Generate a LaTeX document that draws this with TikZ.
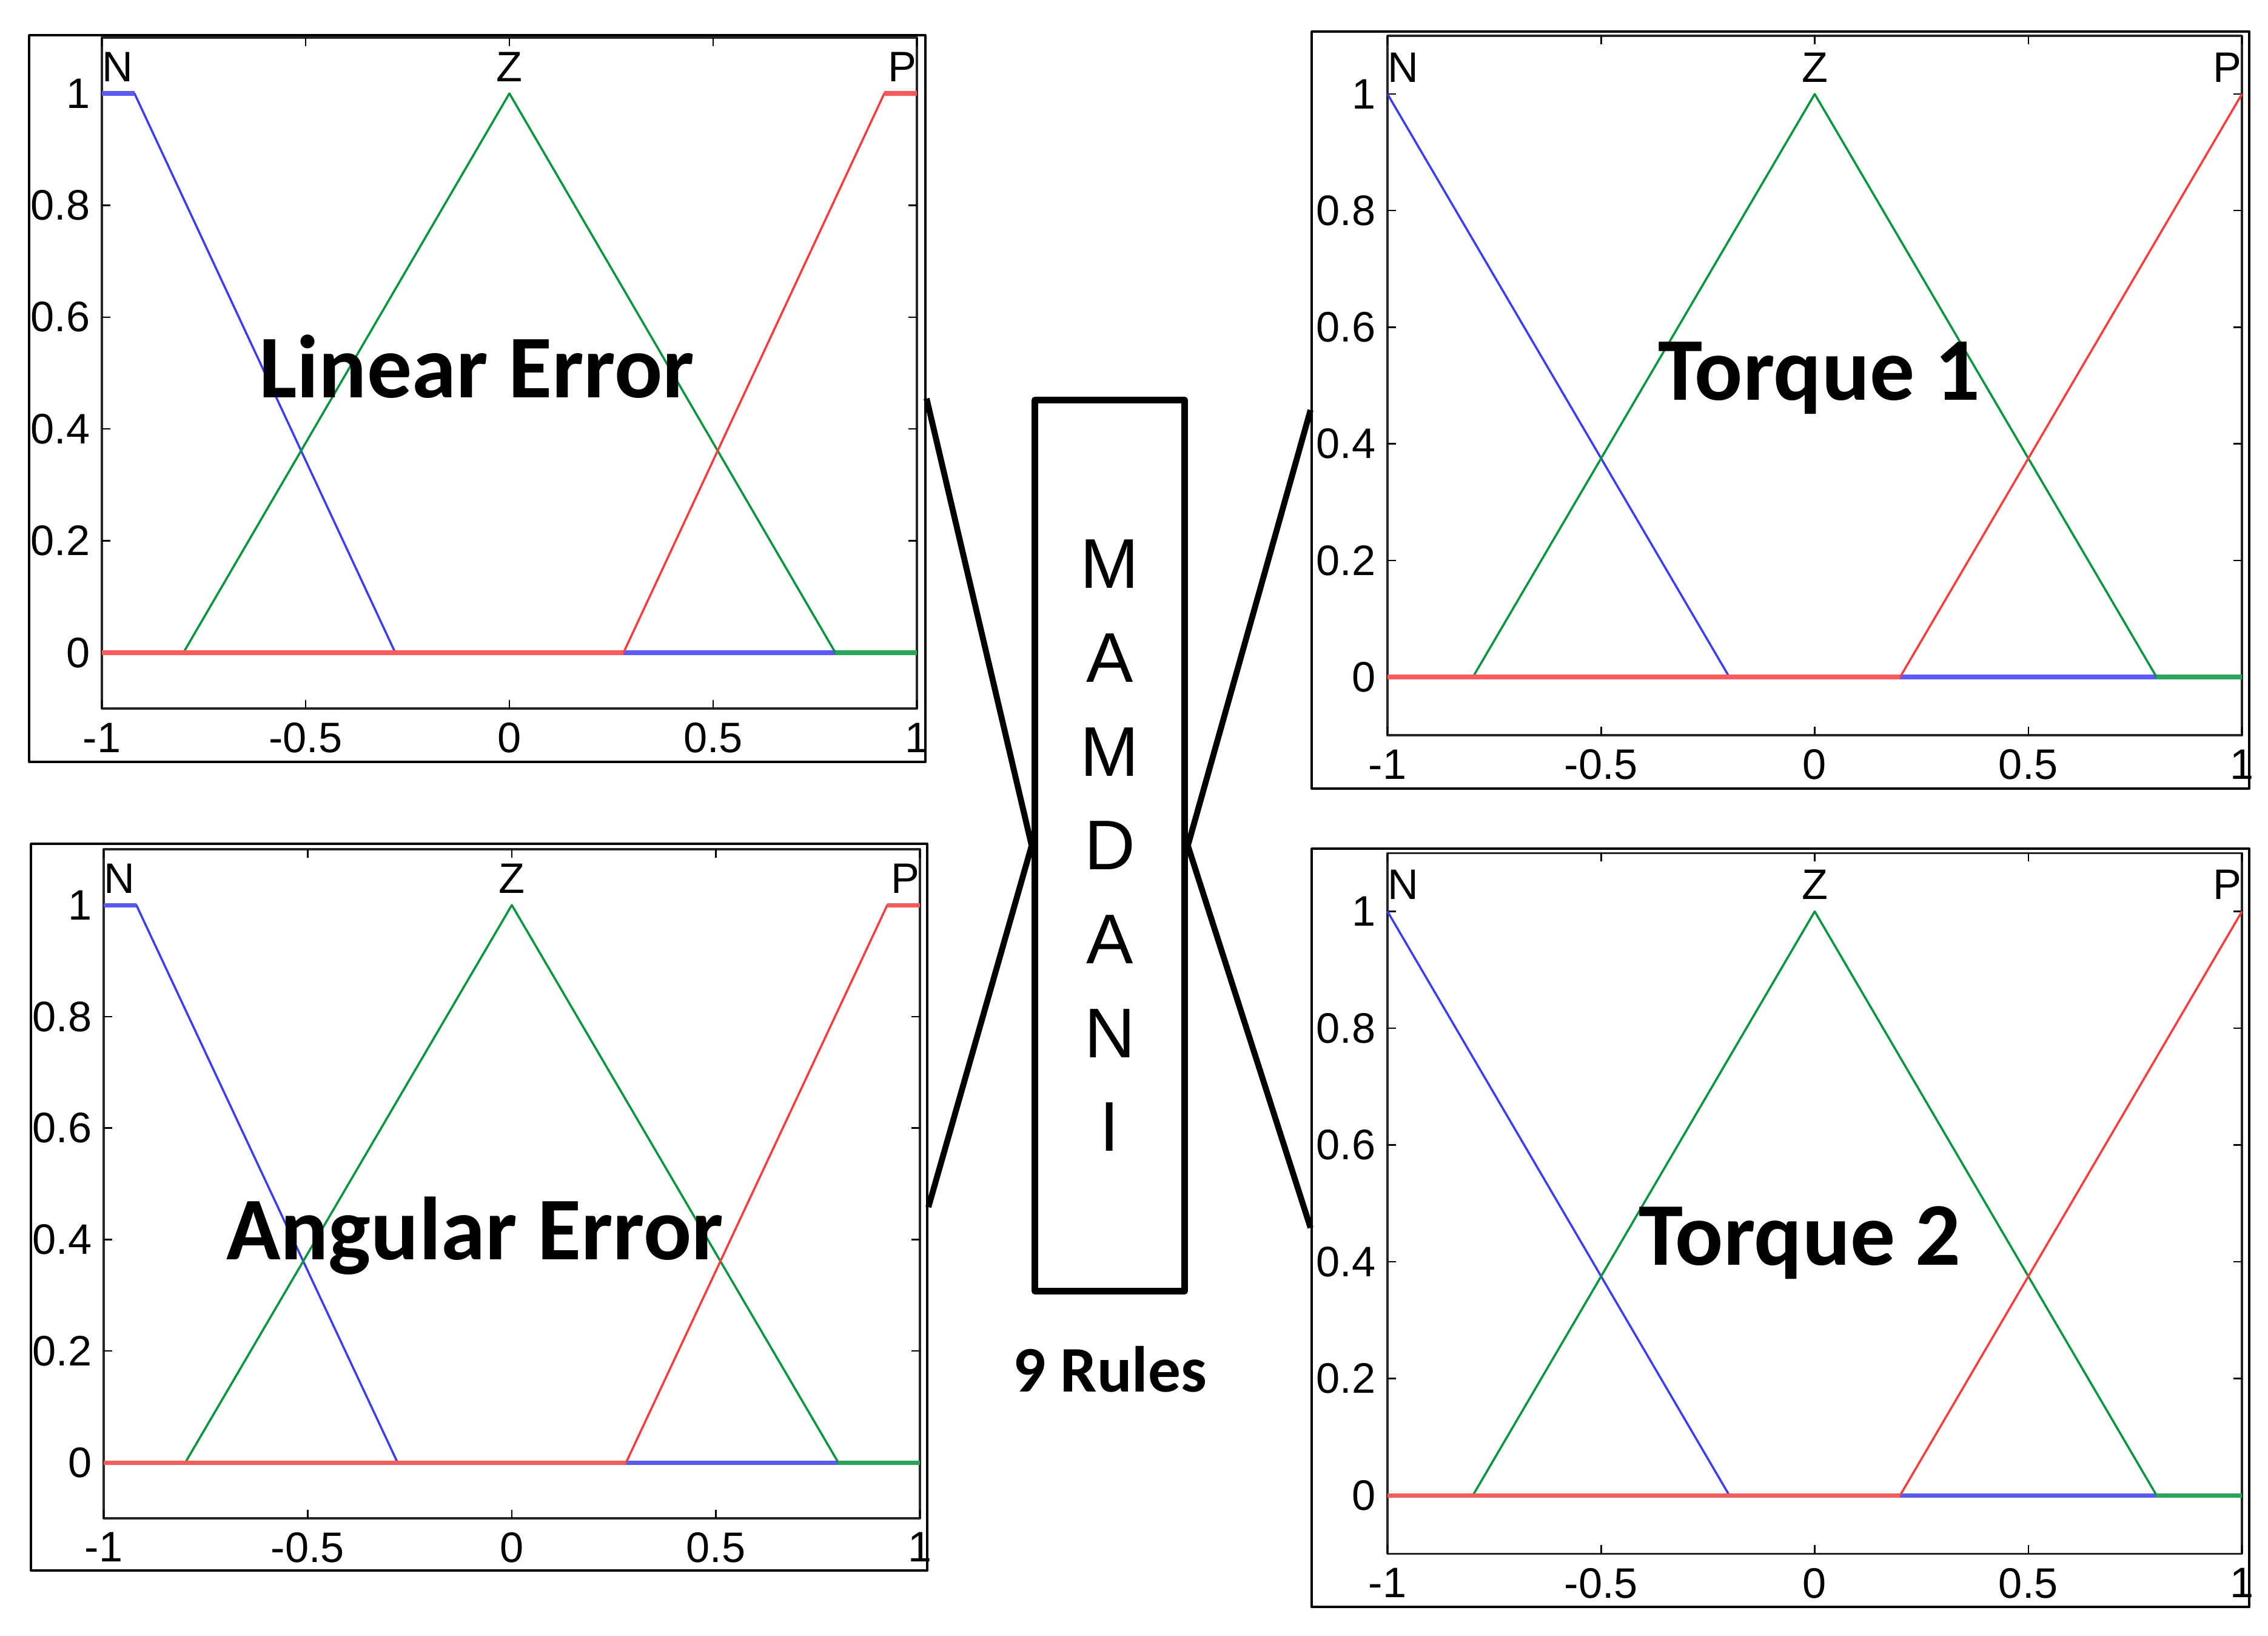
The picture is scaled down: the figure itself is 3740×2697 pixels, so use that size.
\documentclass[tikz,border=0pt]{standalone}
\usepackage{fontspec}
\setmainfont{Liberation Sans}
\newfontfamily\calfont{Carlito}
\usetikzlibrary{positioning}
\definecolor{mfblue}{RGB}{60,60,255}
\definecolor{mfgreen}{RGB}{0,150,60}
\definecolor{mfred}{RGB}{255,60,60}
\begin{document}
\begin{tikzpicture}[x=0.1mm, y=-0.1mm, line join=round,
        panel/.style = {draw, rectangle, line width=1.1pt, inner sep=0pt},
        rulebox/.style = {draw, rectangle, line width=3pt, inner sep=0pt, align=center, font=\fontsize{33}{44}\selectfont},
        link/.style = {line width=2.8pt},
        plottitle/.style = {font=\calfont\bfseries\fontsize{42}{50}\selectfont, inner sep=0pt, anchor=base},
        ticklab/.style = {font=\fontsize{20}{24}\selectfont, inner sep=0pt},
        mf/.style = {line width=1pt},
        flat/.style = {line width=2pt}]
    \useasboundingbox (0,0) rectangle (3740,2697);
    \node[panel, minimum width=147.8mm, minimum height=119.8mm] (linerr) at (787,657) {};
    \node[panel, minimum width=147.8mm, minimum height=119.8mm] (angerr) at (790,1990) {};
    \node[panel, minimum width=154.6mm, minimum height=124.8mm] (torq1) at (2936,676) {};
    \node[panel, minimum width=154.6mm, minimum height=125mm] (torq2) at (2936,2024) {};
    \node[rulebox, minimum width=24.7mm, minimum height=146.9mm] (mamdani) at (1830,1394) {M\\A\\M\\D\\A\\N\\I};
    \node[font=\calfont\bfseries\fontsize{30.5}{36}\selectfont, inner sep=0pt, below=8.5mm of mamdani] (rules) {9 Rules};
    % membership functions N, Z, P of each panel
    \foreach \p/\ox/\oy/\ux/\uy/\na/\nb/\pa/\pb in {%
            lin/840/1076/67.2/92.2/-0.92/-0.28/0.28/0.92,
            ang/844/2411/67.3/91.9/-0.92/-0.28/0.28/0.92,
            tqa/2992.5/1116/70.45/96.1/-1/-0.2/0.2/1,
            tqb/2992.5/2465/70.45/96.25/-1/-0.2/0.2/1}{
        \begin{scope}[shift={(\ox,\oy)}, x=\ux mm, y=\uy mm]
            \draw[line width=1pt, black!85] (-1,-0.1) rectangle (1,1.1);
            \foreach \t [count=\i] in {-1,-0.5,0,0.5,1}{
                \draw[line width=0.7pt] (\t,-0.1) -- ++(0,1.4mm) (\t,1.1) -- ++(0,-1.4mm);
                \node[ticklab, anchor=north, yshift=-2.3mm] (\p-x\i) at (\t,-0.1) {\t};
            }
            \foreach \t [count=\i] in {0,0.2,0.4,0.6,0.8,1}{
                \draw[line width=0.7pt] (-1,\t) -- ++(1.4mm,0) (1,\t) -- ++(-1.4mm,0);
                \node[ticklab, anchor=east, xshift=-1.9mm] (\p-y\i) at (-1,\t) {\t};
            }
            \node[ticklab, anchor=south west] (\p-n) at (-1,1.02) {N};
            \node[ticklab, anchor=south] (\p-z) at (0,1.02) {Z};
            \node[ticklab, anchor=south east] (\p-p) at (1,1.02) {P};
            \draw[mfblue, mf] (-1,1) -- (\na,1) -- (\nb,0);
            \draw[mfblue!85!white, flat] (-1,1) -- (\na,1) (\nb,0) -- (1,0);
            \draw[mfgreen, mf] (-0.8,0) -- (0,1) -- (0.8,0);
            \draw[mfgreen!85!white, flat] (-1,0) -- (-0.8,0) (0.8,0) -- (1,0);
            \draw[mfred, mf] (\pa,0) -- (\pb,1) -- (1,1);
            \draw[mfred!85!white, flat] (-1,0) -- (\pa,0) (\pb,1) -- (1,1);
        \end{scope}
    }
    \node[plottitle] (lintitle) at (786,655) {Linear Error};
    \node[plottitle] (angtitle) at (783,2076) {Angular Error};
    \node[plottitle] (tq1title) at (3000,659) {Torque 1};
    \node[plottitle] (tq2title) at (2968,2085) {Torque 2};
    \draw[link] (linerr.east) -- (mamdani.west);
    \draw[link] (angerr.east) -- (mamdani.west);
    \draw[link] (mamdani.east) -- (torq1.west);
    \draw[link] (mamdani.east) -- (torq2.west);
\end{tikzpicture}
\end{document}
